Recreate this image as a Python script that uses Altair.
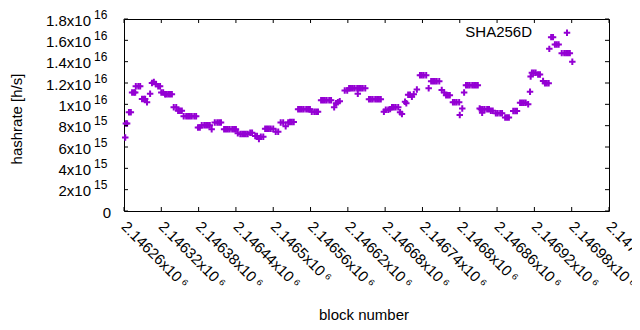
import altair as alt
import pandas as pd

# ---- data ----
block_number = [
    2146262, 2146263, 2146265, 2146268, 2146271, 2146273, 2146276, 2146278, 2146279, 2146283,
    2146286, 2146289, 2146292, 2146294, 2146297, 2146302, 2146305, 2146308, 2146311, 2146315,
    2146318, 2146320, 2146323, 2146326, 2146328, 2146331, 2146334, 2146337, 2146340, 2146344,
    2146347, 2146350, 2146353, 2146356, 2146360, 2146363, 2146366, 2146369, 2146373, 2146376,
    2146379, 2146382, 2146385, 2146389, 2146392, 2146395, 2146398, 2146401, 2146406, 2146410,
    2146413, 2146416, 2146421, 2146424, 2146427, 2146430, 2146434, 2146437, 2146440, 2146443,
    2146447, 2146450, 2146453, 2146456, 2146459, 2146463, 2146466, 2146471, 2146474, 2146477,
    2146480, 2146484, 2146487, 2146490, 2146493, 2146496, 2146500, 2146504, 2146508, 2146512,
    2146516, 2146520, 2146524, 2146527, 2146530, 2146533, 2146540, 2146543, 2146546, 2146549,
    2146553, 2146556, 2146559, 2146562, 2146566, 2146569, 2146572, 2146577, 2146580, 2146583,
    2146586, 2146590, 2146593, 2146598, 2146601, 2146604, 2146607, 2146615, 2146619, 2146622,
    2146625, 2146628, 2146631, 2146635, 2146636, 2146638, 2146641, 2146644, 2146648, 2146654,
    2146657, 2146660, 2146664, 2146667, 2146670, 2146673, 2146678, 2146681, 2146685, 2146688,
    2146691, 2146694, 2146697, 2146701, 2146704, 2146707, 2146712, 2146714, 2146717, 2146720,
    2146723, 2146726, 2146731, 2146736, 2146739, 2146742, 2146746, 2146750, 2146754, 2146757,
    2146760, 2146763, 2146767, 2146771, 2146775, 2146778, 2146781, 2146784, 2146789, 2146792,
    2146795, 2146799, 2146800, 2146804, 2146807, 2146810, 2146813, 2146816, 2146820, 2146823,
    2146826, 2146829, 2146832, 2146834, 2146836, 2146837, 2146840, 2146844, 2146847, 2146850,
    2146853, 2146858, 2146861, 2146865, 2146868, 2146873, 2146876, 2146879, 2146886, 2146889,
    2146892, 2146897, 2146900, 2146903, 2146906, 2146910, 2146913, 2146914, 2146916, 2146919,
    2146922, 2146926, 2146929, 2146934, 2146937, 2146940, 2146943, 2146944, 2146947, 2146950,
    2146953, 2146956, 2146959, 2146964, 2146968, 2146971, 2146974, 2146977, 2146981,
]
hashrate_e15 = [
    6.9, 8.2, 8.2, 9.25, 9.25, 11.1, 11.1, 11.1, 11.7, 11.7,
    11.7, 10.5, 10.5, 10.5, 10.2, 11.0, 12.0, 12.1, 11.9, 11.7,
    11.7, 11.1, 11.1, 10.95, 10.95, 10.95, 10.95, 10.95, 9.72, 9.72,
    9.4, 9.4, 9.4, 8.88, 8.88, 8.88, 8.88, 8.88, 8.88, 8.88,
    7.83, 7.83, 8.03, 8.03, 8.03, 8.03, 8.03, 7.66, 8.3, 8.3,
    8.3, 8.3, 7.66, 7.66, 7.66, 7.66, 7.66, 7.66, 7.66, 7.28,
    7.22, 7.22, 7.22, 7.22, 7.22, 7.34, 7.34, 7.03, 7.03, 6.75,
    6.97, 6.97, 7.72, 7.72, 7.72, 7.72, 7.72, 7.43, 7.43, 8.3,
    8.3, 7.95, 8.3, 8.35, 8.35, 8.35, 9.53, 9.53, 9.53, 9.53,
    9.53, 9.53, 9.53, 9.31, 9.31, 9.31, 9.31, 10.38, 10.38, 10.38,
    10.38, 10.38, 10.38, 9.72, 10.1, 10.2, 10.3, 11.3, 11.3, 11.5,
    11.5, 11.5, 11.5, 11.5, 11.0, 11.5, 11.5, 11.5, 11.5, 10.47,
    10.47, 10.47, 10.47, 10.47, 10.47, 10.47, 9.3, 9.5, 9.5, 9.55,
    9.73, 9.73, 9.73, 9.73, 9.25, 9.1, 10.25, 10.1, 10.9, 10.9,
    10.7, 10.94, 11.4, 12.72, 12.72, 12.72, 12.72, 11.5, 12.16, 12.16,
    12.16, 12.16, 12.16, 11.34, 11.1, 10.85, 10.85, 10.85, 10.19, 10.19,
    10.19, 10.19, 9.0, 9.6, 11.1, 11.78, 11.78, 11.78, 11.78, 11.78,
    11.78, 11.78, 9.6, 9.53, 9.2, 9.53, 9.53, 9.53, 9.53, 9.4,
    9.4, 9.16, 9.16, 9.16, 9.16, 8.77, 8.77, 8.77, 9.38, 9.38,
    9.38, 10.15, 10.15, 10.15, 10.15, 10.0, 11.18, 12.6, 12.97, 12.97,
    12.97, 12.8, 12.8, 12.19, 11.97, 11.97, 11.97, 15.2, 16.3, 16.3,
    15.6, 15.6, 15.6, 14.8, 14.8, 14.8, 14.8, 14.8, 14.0,
]

x_ticks = [2146260, 2146320, 2146380, 2146440, 2146500, 2146560, 2146620,
           2146680, 2146740, 2146800, 2146860, 2146920, 2146980, 2147040]
x_tick_labels = ["2.14626x10\u2009\u2076", "2.14632x10\u2009\u2076", "2.14638x10\u2009\u2076",
                 "2.14644x10\u2009\u2076", "2.1465x10\u2009\u2076", "2.14656x10\u2009\u2076",
                 "2.14662x10\u2009\u2076", "2.14668x10\u2009\u2076", "2.14674x10\u2009\u2076",
                 "2.1468x10\u2009\u2076", "2.14686x10\u2009\u2076", "2.14692x10\u2009\u2076",
                 "2.14698x10\u2009\u2076", "2.14704x10\u2009\u2076"]
y_ticks = [0, 2e15, 4e15, 6e15, 8e15, 1e16, 1.2e16, 1.4e16, 1.6e16, 1.8e16]
y_tick_mantissa = ["0", "2x10", "4x10", "6x10", "8x10", "1x10", "1.2x10", "1.4x10", "1.6x10", "1.8x10"]
y_tick_exponent = ["", "15", "15", "15", "15", "16", "16", "16", "16", "16"]
series_name = ["SHA256D"]
x_title = ["block number"]
y_title = ["hashrate [h/s]"]

# ---- style ----
PURPLE = "#9400D3"
FONT = "Liberation Sans"
PLUS = "M-1,0L1,0M0,-1L0,1"
W, H = 485, 192

df = pd.DataFrame({"block": block_number, "hashrate": [v * 1e15 for v in hashrate_e15]})
xt = pd.DataFrame({"tick": x_ticks, "label": x_tick_labels})
yt = pd.DataFrame({"tick": y_ticks, "main": y_tick_mantissa, "sup": y_tick_exponent})
leg = pd.DataFrame({"name": series_name})
xtitle_df = pd.DataFrame({"t": x_title})
ytitle_df = pd.DataFrame({"t": y_title})

xscale = alt.Scale(domain=[2146260, 2147040], nice=False, zero=False)
yscale = alt.Scale(domain=[0, 1.8e16], nice=False, zero=True)

points = alt.Chart(df).mark_point(
    shape=PLUS, filled=False, color=PURPLE, strokeWidth=2, size=42, opacity=1
).encode(
    x=alt.X("block:Q", scale=xscale, axis=None),
    y=alt.Y("hashrate:Q", scale=yscale, axis=None),
)

tick_style = dict(color="black", strokeWidth=1)
x_bottom = alt.Chart(xt).mark_rule(**tick_style).encode(
    x=alt.X("tick:Q", scale=xscale, axis=None), y=alt.value(H - 4), y2=alt.value(H))
x_top = alt.Chart(xt).mark_rule(**tick_style).encode(
    x=alt.X("tick:Q", scale=xscale, axis=None), y=alt.value(0), y2=alt.value(4))
y_left = alt.Chart(yt).mark_rule(**tick_style).encode(
    y=alt.Y("tick:Q", scale=yscale, axis=None), x=alt.value(0), x2=alt.value(4))
y_right = alt.Chart(yt).mark_rule(**tick_style).encode(
    y=alt.Y("tick:Q", scale=yscale, axis=None), x=alt.value(W - 4), x2=alt.value(W))

xlab = alt.Chart(xt).mark_text(
    font=FONT, fontSize=15, align="left", baseline="middle", angle=45, color="black"
).encode(x=alt.X("tick:Q", scale=xscale, axis=None), y=alt.value(H + 13), text="label:N")

ylab_main = alt.Chart(yt).transform_filter("datum.sup != ''").mark_text(
    font=FONT, fontSize=15, align="right", baseline="middle", dy=1.5, color="black"
).encode(y=alt.Y("tick:Q", scale=yscale, axis=None), x=alt.value(-33), text="main:N")
ylab_sup = alt.Chart(yt).transform_filter("datum.sup != ''").mark_text(
    font=FONT, fontSize=12, align="left", baseline="middle", dy=-4.5, color="black"
).encode(y=alt.Y("tick:Q", scale=yscale, axis=None), x=alt.value(-30), text="sup:N")
ylab_zero = alt.Chart(yt).transform_filter("datum.sup == ''").mark_text(
    font=FONT, fontSize=15, align="right", baseline="middle", dy=1.5, color="black"
).encode(y=alt.Y("tick:Q", scale=yscale, axis=None), x=alt.value(-13), text="main:N")

xtitle = alt.Chart(xtitle_df).mark_text(
    font=FONT, fontSize=15, align="center", baseline="alphabetic", color="black"
).encode(x=alt.value(240), y=alt.value(301), text="t:N")
ytitle = alt.Chart(ytitle_df).mark_text(
    font=FONT, fontSize=15, align="center", baseline="alphabetic", angle=270, color="black"
).encode(x=alt.value(-102.5), y=alt.value(100), text="t:N")

legend_text = alt.Chart(leg).mark_text(
    font=FONT, fontSize=15, align="right", baseline="middle", color="black"
).encode(x=alt.value(408), y=alt.value(13), text="name:N")
legend_mark = alt.Chart(leg).mark_point(
    shape=PLUS, filled=False, color=PURPLE, strokeWidth=2, size=42, opacity=1
).encode(x=alt.value(443), y=alt.value(13.7))

chart = alt.layer(
    points, x_bottom, x_top, y_left, y_right, xlab,
    ylab_main, ylab_sup, ylab_zero, xtitle, ytitle, legend_text, legend_mark,
).properties(
    width=W, height=H,
    autosize=alt.AutoSizeParams(type="none"),
    padding={"left": 116, "top": 11, "right": 23, "bottom": 111},
    background="white",
).configure_view(stroke="black", strokeWidth=1)

chart.save("out.html", embed_options={"renderer": "svg", "actions": False})
